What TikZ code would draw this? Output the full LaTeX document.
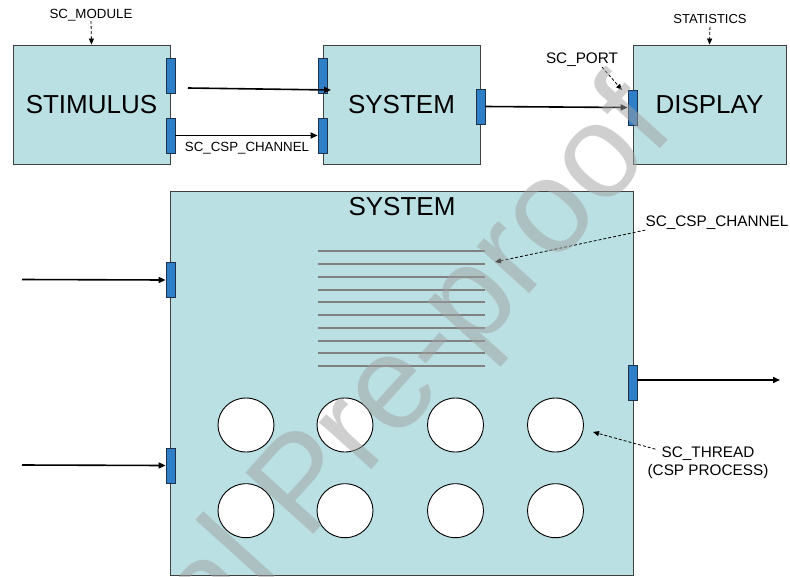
\documentclass[tikz,border=0pt]{standalone}
\usepackage{fontspec}
\setmainfont{Liberation Sans}
\usetikzlibrary{arrows.meta,shapes.geometric}
\definecolor{boxfill}{RGB}{186,224,227}
\definecolor{portfill}{RGB}{46,126,200}
\definecolor{portdraw}{RGB}{30,50,75}
\definecolor{boxdraw}{RGB}{64,64,64}
\definecolor{chgray}{RGB}{128,128,128}
\definecolor{wmgray}{RGB}{160,160,160}
\begin{document}
\begin{tikzpicture}[x=1pt,y=-1pt,
  box/.style={draw=boxdraw,fill=boxfill,line width=0.9pt,inner sep=0pt},
  port/.style={draw=portdraw,fill=portfill,line width=0.8pt,minimum width=9pt,minimum height=35pt,inner sep=0pt},
  title/.style={font=\fontsize{26}{30}\selectfont},
  lblS/.style={font=\fontsize{13.3}{16}\selectfont,inner sep=0pt},
  lblL/.style={font=\fontsize{15.3}{18.4}\selectfont,inner sep=0pt,align=center},
  flow/.style={line width=1.6pt,-{Triangle[length=7pt,width=6pt]}},
  note/.style={line width=0.8pt,dash pattern=on 3pt off 2pt,-{Triangle[length=6pt,width=5pt]}},
  proc/.style={ellipse,draw=black,fill=white,line width=0.9pt,minimum width=56pt,minimum height=54pt,inner sep=0pt},
  chan/.style={draw=chgray,line width=2pt}]
\useasboundingbox (0,0) rectangle (790,576);

% top row boxes
\node[box,minimum width=157pt,minimum height=119pt,title] (stim) at (91.5,104.5) {STIMULUS};
\node[box,minimum width=157pt,minimum height=119pt,title] (sys) at (401.5,104.5) {SYSTEM};
\node[box,minimum width=153pt,minimum height=119pt,title] (disp) at (709.5,104.5) {DISPLAY};

% top row ports
\node[port] (stimp1) at (170.5,76) {};
\node[port] (stimp2) at (170.5,135.5) {};
\node[port] (sysp1) at (322.5,76) {};
\node[port] (sysp2) at (322.5,135.5) {};
\node[port] (sysr) at (480.5,106.5) {};
\node[port] (dispp) at (632.5,107.5) {};

% top row connectors
\coordinate (a1s) at (188,88);
\coordinate (a1e) at (331,90);
\draw[flow] (a1s) -- (a1e);
\draw[flow] (stimp2.east) -- (sysp2.west);
\draw[flow] (sysr.east) -- (dispp.west);

% top labels
\node[lblS] (modl) at (91,15) {SC\_MODULE};
\draw[note] (modl.south) -- (stim.north);
\node[lblS,font=\fontsize{13}{16}\selectfont] (statl) at (710,19) {STATISTICS};
\draw[note,shorten <=3pt] (statl.south) -- (disp.north);
\node[lblS] (chtop) at (247,148) {SC\_CSP\_CHANNEL};
\node[lblL] (portl) at (582,60) {SC\_PORT};
\coordinate (pe) at (622,90);
\draw[note] ([xshift=20pt]portl.south) -- (pe);

% big system box
\node[box,minimum width=463pt,minimum height=384pt] (big) at (401.5,383) {};
\node[title,inner sep=0pt] (bigtitle) at (402,207) {SYSTEM};

% channel lines
\foreach \yy in {251,264,277,290,302,315,328,341,353,366}
  \draw[chan] (318,\yy) -- (485,\yy);

% processes
\node[proc] (p1) at (246,425) {};
\node[proc] (p2) at (345,425) {};
\node[proc] (p3) at (455.5,425) {};
\node[proc] (p4) at (555.5,425) {};
\node[proc] (p5) at (246,510.7) {};
\node[proc] (p6) at (345,510.7) {};
\node[proc] (p7) at (455.5,510.7) {};
\node[proc] (p8) at (555.5,510.7) {};

% big box ports
\node[port] (bigp1) at (170.5,280) {};
\node[port] (bigp2) at (170.5,465.5) {};
\node[port] (bigr) at (632.5,382.5) {};

% big box connectors
\coordinate (in1) at (22,279.5);
\coordinate (in2) at (22,465);
\coordinate (out1) at (780,380);
\draw[flow] (in1) -- (bigp1.west);
\draw[flow] (in2) -- (bigp2.west);
\draw[flow] (bigr.east |- out1) -- (out1);

% right labels
\node[lblL] (chl) at (717,223) {SC\_CSP\_CHANNEL};
\coordinate (chpt) at (495,262);
\draw[note] (chl.south west) -- (chpt);
\node[lblL] (thl) at (708,462.5) {SC\_THREAD\\(CSP PROCESS)};
\coordinate (thpt) at (593,432);
\draw[note] ([xshift=8pt,yshift=-3pt]thl.north west) -- (thpt);

% watermark
\begin{scope}
\clip (0,0) rectangle (790,576);
\node[anchor=base west,rotate=48,text=wmgray,text opacity=0.5,font=\fontsize{133}{133}\selectfont,inner sep=0pt] (wm) at (-10.4,894) {Journal Pre-proof};
\end{scope}
\end{tikzpicture}
\end{document}
